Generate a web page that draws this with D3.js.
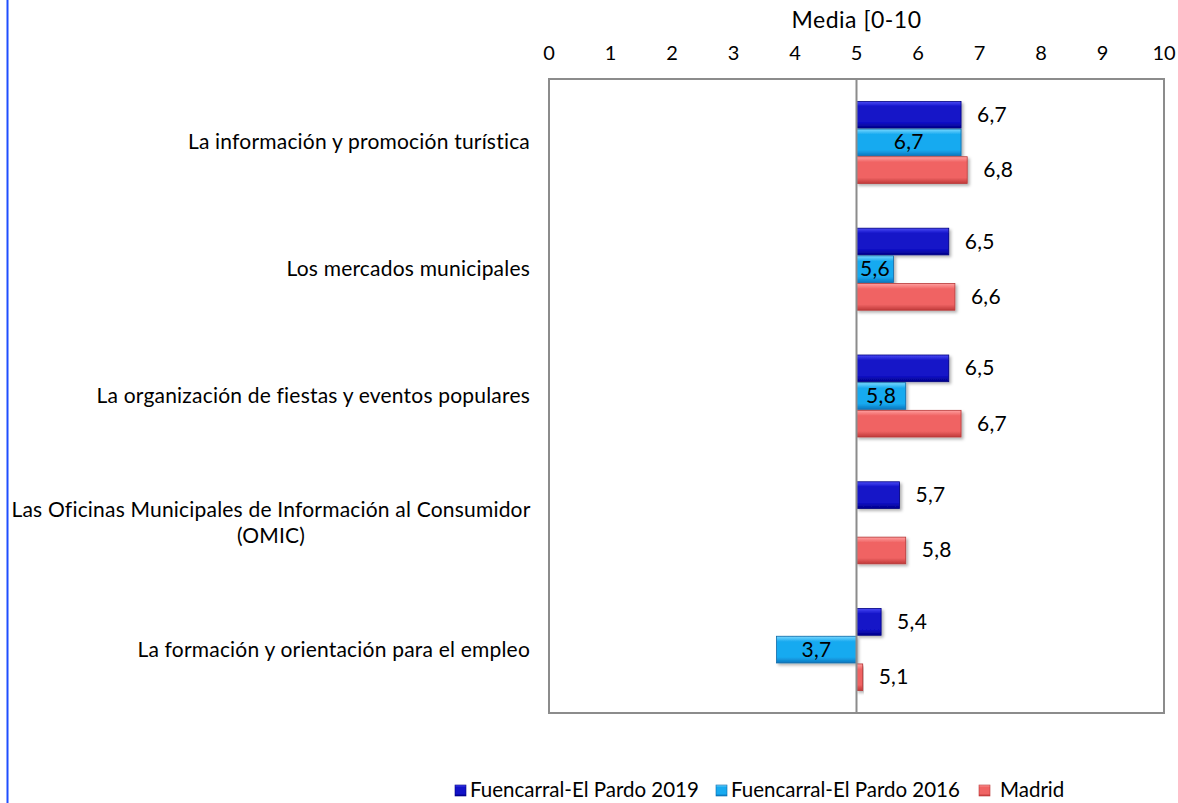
<!DOCTYPE html>
<head>
  <meta charset="utf-8">
  <script src='https://d3js.org/d3.v7.min.js'></script>
  <style>
    body { margin: 0; background: #fff; }
    svg { font-family: Lato, "Open Sans", sans-serif; }
    .axis-title { font-size: 23px; letter-spacing: 0.5px; fill: #000; }
    .tick-label { font-size: 20px; fill: #000; }
    .cat-label { font-size: 21px; letter-spacing: 0.2px; fill: #000; }
    .val-label { font-size: 21px; letter-spacing: 0.3px; fill: #000; }
    .legend-label { font-size: 20.5px; fill: #000; }
  </style>
</head>
<body>
<script>
var categories = [
  'La información y promoción turística',
  'Los mercados municipales',
  'La organización de fiestas y eventos populares',
  'Las Oficinas Municipales de Información al Consumidor|(OMIC)',
  'La formación y orientación para el empleo'
];
var seriesNames = ['Fuencarral-El Pardo 2019', 'Fuencarral-El Pardo 2016', 'Madrid'];
var fep2019 = [6.7, 6.5, 6.5, 5.7, 5.4];
var fep2016 = [6.7, 5.6, 5.8, null, 3.7];
var madrid = [6.8, 6.6, 6.7, 5.8, 5.1];
var ticks = [0, 1, 2, 3, 4, 5, 6, 7, 8, 9, 10];

var seriesColors = [
  {top: '#4a4af5', mid: '#1212c8', bot: '#00008a', edge: '#000080'},
  {top: '#7ad8ff', mid: '#18aaf0', bot: '#0a78c0', edge: '#0a6aa8'},
  {top: '#ffa0a0', mid: '#f06464', bot: '#c03a3a', edge: '#b83838'}
];

var width = 1178, height = 803;
var svg = d3.select('body').append('svg')
  .attr('width', width)
  .attr('height', height);

// left blue rule
svg.append('line')
  .attr('x1', 7.5).attr('x2', 7.5).attr('y1', 0).attr('y2', height)
  .style('stroke', '#1f4fff').style('stroke-width', 2);

var x = d3.scaleLinear().domain([0, 10]).range([549, 1164]);
var y = d3.scaleBand().domain(categories).range([79, 713]).padding(0);
var sub = d3.scaleBand().domain([0, 1, 2]).range([0, 83]).padding(0);
var baseline = 5;

var defs = svg.append('defs');
seriesColors.forEach(function(c, i) {
  var g = defs.append('linearGradient')
    .attr('id', 'grad' + i)
    .attr('x1', 0).attr('y1', 0).attr('x2', 0).attr('y2', 1);
  g.append('stop').attr('offset', '0%').attr('stop-color', c.top);
  g.append('stop').attr('offset', '20%').attr('stop-color', c.mid);
  g.append('stop').attr('offset', '78%').attr('stop-color', c.mid);
  g.append('stop').attr('offset', '100%').attr('stop-color', c.bot);
});
var shadow = defs.append('filter').attr('id', 'shadow')
  .attr('x', '-10%').attr('y', '-10%').attr('width', '130%').attr('height', '140%');
shadow.append('feDropShadow')
  .attr('dx', 2).attr('dy', 2).attr('stdDeviation', 1.5)
  .attr('flood-color', '#000').attr('flood-opacity', 0.3);

// axis title
svg.append('text')
  .attr('x', x(5)).attr('y', 28)
  .attr('text-anchor', 'middle')
  .attr('class', 'axis-title')
  .text('Media [0-10');

// top axis labels
svg.selectAll('.tick-label')
  .data(ticks)
  .enter().append('text')
  .attr('class', 'tick-label')
  .attr('x', function(d) { return x(d); })
  .attr('y', 60)
  .attr('text-anchor', 'middle')
  .text(function(d) { return d; });

// plot frame
svg.append('rect')
  .attr('x', x(0)).attr('y', 79)
  .attr('width', x(10) - x(0)).attr('height', 634)
  .style('fill', 'none').style('stroke', '#8c8c8c').style('stroke-width', 2);

// category labels
categories.forEach(function(c) {
  var lines = c.split('|');
  var cy = y(c) + y.bandwidth() / 2;
  var lx = lines.length > 1 ? 271 : 530;
  var t = svg.append('text')
    .attr('class', 'cat-label')
    .attr('text-anchor', lines.length > 1 ? 'middle' : 'end')
    .attr('x', lx)
    .attr('y', cy - (lines.length - 1) * 13 + 7);
  lines.forEach(function(l, i) {
    t.append('tspan')
      .attr('x', lx)
      .attr('dy', i === 0 ? 0 : 26)
      .text(l);
  });
});

var allSeries = [fep2019, fep2016, madrid];
var rows = [];
allSeries.forEach(function(vals, s) {
  vals.forEach(function(v, i) {
    if (v == null) return;
    rows.push({s: s, cat: categories[i], v: v});
  });
});

var groupOffset = (y.bandwidth() - 83) / 2;

var bars = svg.selectAll('g.bar')
  .data(rows)
  .enter().append('g')
  .attr('class', 'bar');

bars.append('rect')
  .attr('x', function(d) { return Math.min(x(d.v), x(baseline)); })
  .attr('y', function(d) { return y(d.cat) + groupOffset + sub(d.s) + 0.5; })
  .attr('width', function(d) { return Math.abs(x(d.v) - x(baseline)); })
  .attr('height', sub.bandwidth() - 1)
  .attr('filter', 'url(#shadow)')
  .style('fill', function(d) { return 'url(#grad' + d.s + ')'; })
  .style('stroke', function(d) { return seriesColors[d.s].edge; })
  .style('stroke-width', 0.8);

// baseline at 5
svg.append('line')
  .attr('x1', x(baseline)).attr('x2', x(baseline))
  .attr('y1', 79).attr('y2', 713)
  .style('stroke', '#8c8c8c').style('stroke-width', 2);

// value labels
bars.append('text')
  .attr('class', 'val-label')
  .attr('x', function(d) {
    if (d.s === 1) return (x(d.v) + x(baseline)) / 2;
    return x(d.v) + 16;
  })
  .attr('y', function(d) { return y(d.cat) + groupOffset + sub(d.s) + sub.bandwidth() / 2 + 7; })
  .attr('text-anchor', function(d) { return d.s === 1 ? 'middle' : 'start'; })
  .text(function(d) { return d3.format('.1f')(d.v).replace('.', ','); });

// legend
var legendX = [455, 716, 979];
var legend = svg.selectAll('g.legend')
  .data(seriesNames)
  .enter().append('g')
  .attr('class', 'legend')
  .attr('transform', function(d, i) { return 'translate(' + legendX[i] + ',785)'; });
legend.append('rect')
  .attr('width', 11).attr('height', 11)
  .style('fill', function(d, i) { return 'url(#grad' + i + ')'; })
  .style('stroke', function(d, i) { return seriesColors[i].edge; })
  .style('stroke-width', 0.6);
legend.append('text')
  .attr('class', 'legend-label')
  .attr('x', function(d, i) { return i === 2 ? 21 : 15; })
  .attr('y', 12)
  .text(function(d) { return d; });
</script>
</body>
